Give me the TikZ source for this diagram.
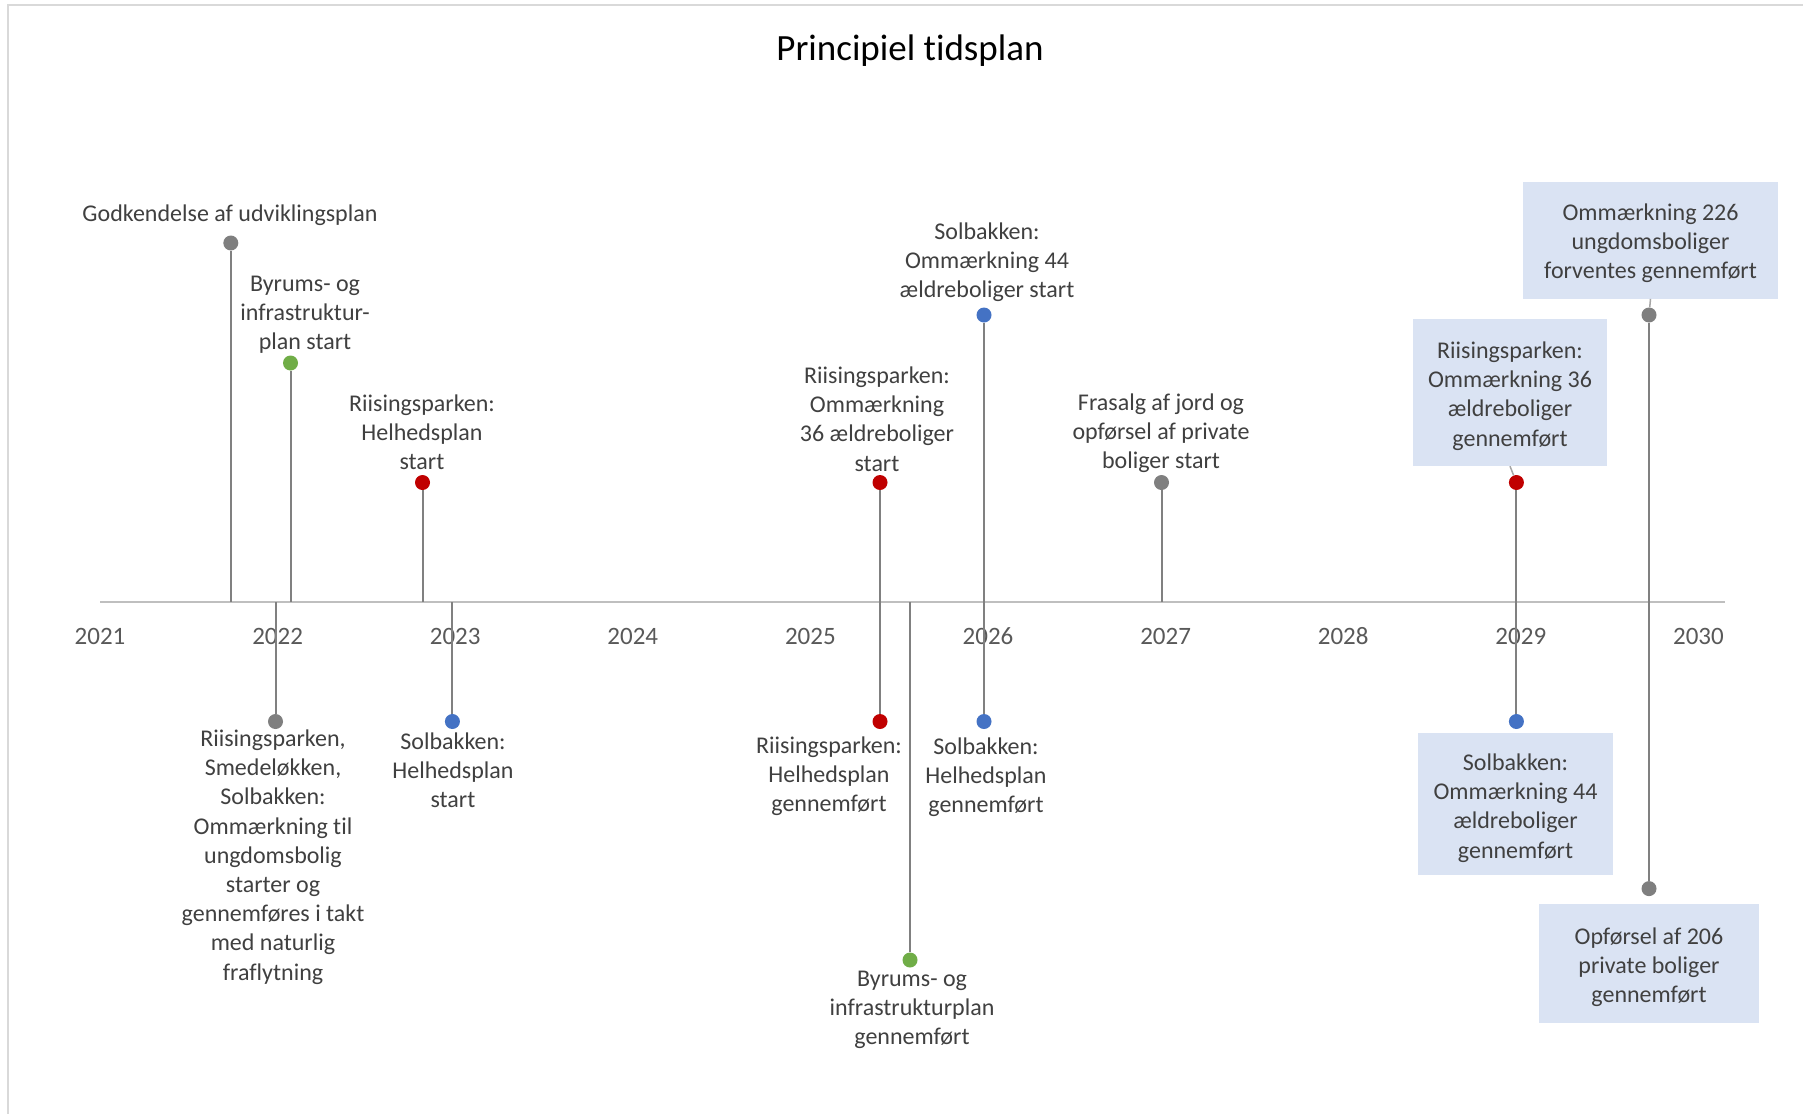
\documentclass[tikz,border=0pt]{standalone}
\usepackage{fontspec}
\setmainfont{Carlito}[Ligatures=NoCommon]
\definecolor{framec}{HTML}{D9D9D9}
\definecolor{axisc}{HTML}{BFBFBF}
\definecolor{dropc}{HTML}{808080}
\definecolor{leadc}{HTML}{A6A6A6}
\definecolor{txtc}{HTML}{404040}
\definecolor{yrc}{HTML}{595959}
\definecolor{boxc}{HTML}{DAE3F3}
\definecolor{redc}{HTML}{C00000}
\definecolor{bluec}{HTML}{4472C4}
\definecolor{greenc}{HTML}{70AD47}
\definecolor{greyc}{HTML}{7F7F7F}
\begin{document}
\begin{tikzpicture}[x=1pt,y=-1pt,
  dot/.style={circle,inner sep=0pt,minimum size=15pt,draw=none,fill=#1},
  lbl/.style={align=center,inner sep=0pt,text=txtc,font=\fontsize{24}{29.2}\selectfont},
  boxshape/.style={inner sep=0pt,fill=boxc},
  yr/.style={inner sep=0pt,text=yrc,font=\fontsize{25}{30}\selectfont},
  drop/.style={draw=dropc,line width=2pt},
  lead/.style={draw=leadc,line width=1.5pt},
  axisline/.style={draw=axisc,line width=2pt}]
\useasboundingbox (0,0) rectangle (1803,1114);
\fill[white] (0,0) rectangle (1803,1114);
% frame
\coordinate (fTR) at (1803,5);
\coordinate (fTL) at (8,5);
\coordinate (fBL) at (8,1114);
\draw[framec,line width=2pt] (fTR) -- (fTL) -- (fBL);
% title
\node[font=\fontsize{37}{44}\selectfont,anchor=base,inner sep=0pt] (title) at (910,60) {Principiel tidsplan};
% axis
\coordinate (axL) at (100,602);
\coordinate (axR) at (1725,602);
\draw[axisline] (axL) -- (axR);
% years
\foreach \i in {0,...,9}{
  \pgfmathsetmacro{\yx}{100+177.6*\i}
  \pgfmathtruncatemacro{\yy}{2021+\i}
  \node[yr] (y\yy) at (\yx,636) {\yy};
}
% axis points
\coordinate (a1) at (230.8,602);
\coordinate (a2) at (290.5,602);
\coordinate (a3) at (422.5,602);
\coordinate (a4) at (275.5,602);
\coordinate (a5) at (452.4,602);
\coordinate (a6) at (880,602);
\coordinate (a8) at (910,602);
\coordinate (a9) at (984,602);
\coordinate (a11) at (1161.5,602);
\coordinate (a12) at (1516.4,602);
\coordinate (a13) at (1649,602);
% dots
\node[dot=greyc] (d1) at (230.8,243) {};
\node[dot=greenc] (d2) at (290.5,363) {};
\node[dot=redc] (d3) at (422.5,482.5) {};
\node[dot=greyc] (d4) at (275.5,721.5) {};
\node[dot=bluec] (d5) at (452.4,721.5) {};
\node[dot=redc] (d6) at (880,482.5) {};
\node[dot=redc] (d7) at (880,721.5) {};
\node[dot=greenc] (d8) at (910,960) {};
\node[dot=bluec] (d9) at (984,315) {};
\node[dot=bluec] (d10) at (984,721.5) {};
\node[dot=greyc] (d11) at (1161.5,482.5) {};
\node[dot=redc] (d12) at (1516.4,482.5) {};
\node[dot=greyc] (d13) at (1649,315) {};
\node[dot=bluec] (d14) at (1516.4,721.5) {};
\node[dot=greyc] (d15) at (1649,888.6) {};
% drop lines
\draw[drop] (d1) -- (a1);
\draw[drop] (d2) -- (a2);
\draw[drop] (d3) -- (a3);
\draw[drop] (a4) -- (d4);
\draw[drop] (a5) -- (d5);
\draw[drop] (d6) -- (a6);
\draw[drop] (a6) -- (d7);
\draw[drop] (a8) -- (d8);
\draw[drop] (d9) -- (a9);
\draw[drop] (a9) -- (d10);
\draw[drop] (d11) -- (a11);
\draw[drop] (d12) -- (a12);
\draw[drop] (a12) -- (d14);
\draw[drop] (d13) -- (a13);
\draw[drop] (a13) -- (d15);
% labels
\node[lbl] (l1) at (230,215) {Godkendelse af udviklingsplan};
\node[lbl] (l2) at (305,314.5) {Byrums- og\\infrastruktur-\\plan start};
\node[lbl] (l3) at (422,432) {Riisingsparken:\\Helhedsplan\\start};
\node[lbl] (l4) at (273,857) {Riisingsparken,\\Smedeløkken,\\Solbakken:\\Ommærkning til\\ungdomsbolig\\starter og\\gennemføres i takt\\med naturlig\\fraflytning};
\node[lbl] (l5) at (453,770) {Solbakken:\\Helhedsplan\\start};
\node[lbl] (l6) at (877,419) {Riisingsparken:\\Ommærkning\\36 ældreboliger\\start};
\node[lbl] (l7) at (829,776.5) {Riisingsparken:\\Helhedsplan\\gennemført};
\node[lbl] (l8) at (912,1010) {Byrums- og\\infrastrukturplan\\gennemført};
\node[lbl] (l9) at (987,262) {Solbakken:\\Ommærkning 44\\ældreboliger start};
\node[lbl] (l10) at (986,777) {Solbakken:\\Helhedsplan\\gennemført};
\node[lbl] (l11) at (1161,433) {Frasalg af jord og\\opførsel af private\\boliger start};
% boxed labels
\node[boxshape,minimum width=194pt,minimum height=147pt] (b12) at (1510,392.5) {};
\node[lbl] (t12) at (1510,396) {Riisingsparken:\\Ommærkning 36\\ældreboliger\\gennemført};
\node[boxshape,minimum width=255pt,minimum height=116.6pt] (b13) at (1650.5,240.3) {};
\node[lbl] (t13) at (1650.5,243.5) {Ommærkning 226\\ungdomsboliger\\forventes gennemført};
\node[boxshape,minimum width=195pt,minimum height=142.5pt] (b14) at (1515.5,804) {};
\node[lbl] (t14) at (1515.5,808) {Solbakken:\\Ommærkning 44\\ældreboliger\\gennemført};
\node[boxshape,minimum width=220pt,minimum height=119.5pt] (b15) at (1649,963.5) {};
\node[lbl] (t15) at (1649,967.5) {Opførsel af 206\\private boliger\\gennemført};
% leader lines
\draw[lead] (b12.south) -- (d12);
\draw[lead] (b13.south) -- (d13);
\end{tikzpicture}
\end{document}
